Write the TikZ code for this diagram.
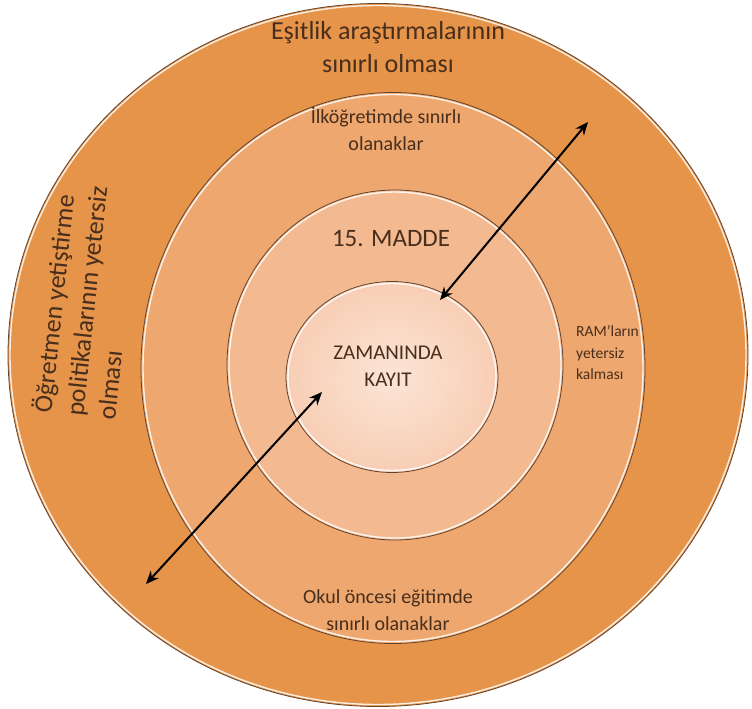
\documentclass[tikz,border=0pt]{standalone}
\usepackage{fontspec}
\setmainfont{Carlito}
\definecolor{ringA}{RGB}{230,148,74}
\definecolor{ringB}{RGB}{238,167,110}
\definecolor{ringC}{RGB}{243,185,144}
\definecolor{ringD}{RGB}{248,206,180}
\definecolor{ringline}{RGB}{100,68,45}
\definecolor{ringtext}{RGB}{72,46,28}
\usetikzlibrary{arrows.meta,positioning,shapes.geometric}

\begin{document}
\begin{tikzpicture}[x=1pt,y=-1pt,
    ring/.style={ellipse,draw=ringline,line width=0.8pt,inner sep=0pt},
    rim/.style={draw=white,line width=1.4pt,opacity=0.85},
    label/.style={text=ringtext,align=center,inner sep=0pt},
    link/.style={{Stealth[length=13pt,width=11pt]}-{Stealth[length=13pt,width=11pt]},line width=2pt,black}]
  \useasboundingbox (0,0) rectangle (752,709);

  %% Ring 1 (outer)
  \node[ring,fill=ringA,minimum width=740pt,minimum height=703pt] (outer) at (378,355) {};
  \draw[rim] (378,355) ellipse [x radius=368,y radius=349.5];
  %% Ring 2
  \node[ring,fill=ringB,minimum width=504pt,minimum height=551pt] (second) at (393,368) {};
  \draw[rim] (393,368) ellipse [x radius=250,y radius=273.5];
  %% Ring 3
  \node[ring,fill=ringC,minimum width=336pt,minimum height=350pt] (third) at (395,365) {};
  \draw[rim] (395,365) ellipse [x radius=166,y radius=173];
  %% Ring 4 (centre)
  \node[ring,inner color=ringD!55!white,outer color=ringD,minimum width=212pt,minimum height=191pt] (core) at (392,377) {};
  \draw[rim] (392,377) ellipse [x radius=104,y radius=93.5];

  %% Texts
  \node[label,font=\fontsize{26}{33}\selectfont] (esitlik) at (388,47)
       {Eşitlik araştırmalarının\\sınırlı olması};
  \node[label,font=\fontsize{20}{27}\selectfont] (ilk) at (386,129)
       {İlköğretimde sınırlı\\olanaklar};
  \node[label,font=\fontsize{25}{30}\selectfont] (madde) at (391,239) {15. MADDE};
  \node[label,font=\fontsize{21}{27}\selectfont] (kayit) at (388,366)
       {ZAMANINDA\\KAYIT};
  \node[label,align=left,anchor=west,font=\fontsize{15.5}{21.5}\selectfont] (ram) at (576,353)
       {RAM'ların\\yetersiz\\kalması};
  \node[label,font=\fontsize{20}{27}\selectfont] (okul) at (388,610)
       {Okul öncesi eğitimde\\sınırlı olanaklar};
  \node[label,align=left,anchor=west,rotate=84,font=\fontsize{26}{32}\selectfont] (ogretmen) at (73,416)
       {Öğretmen yetiştirme\\politikalarının yetersiz\\olması};

  %% Arrows
  \coordinate (a1) at (588,122);
  \coordinate (a2) at (440,300);
  \coordinate (b1) at (322,392);
  \coordinate (b2) at (146,584);
  \draw[link] (a1) -- (a2);
  \draw[link] (b1) -- (b2);
\end{tikzpicture}
\end{document}
